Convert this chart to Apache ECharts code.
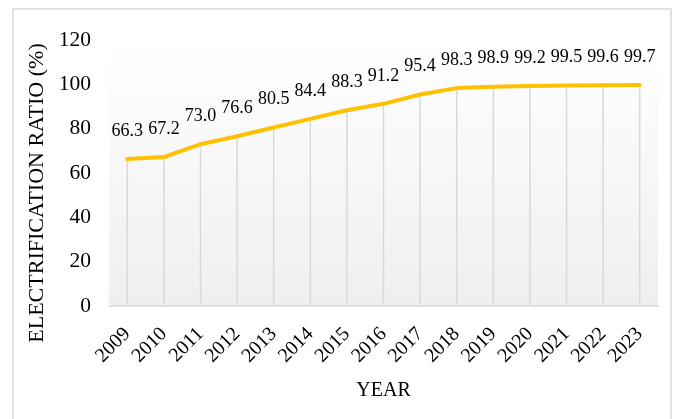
<!DOCTYPE html>
<html>
<head>
<meta charset="utf-8">
<script src="https://cdn.jsdelivr.net/npm/echarts@6/dist/echarts.min.js"></script>
<style>
  html, body { margin: 0; padding: 0; background: #fff; }
  #chart { width: 676px; height: 419px; }
</style>
</head>
<body>
<div id="chart"></div>
<script>
// data
const years = ['2009', '2010', '2011', '2012', '2013', '2014', '2015', '2016',
               '2017', '2018', '2019', '2020', '2021', '2022', '2023'];
const ratio = [66.3, 67.2, 73.0, 76.6, 80.5, 84.4, 88.3, 91.2,
               95.4, 98.3, 98.9, 99.2, 99.5, 99.6, 99.7];

const serif = '"Liberation Serif", "Times New Roman", serif';

const chart = echarts.init(document.getElementById('chart'));
chart.setOption({
    animation: false,
    textStyle: { fontFamily: serif, color: '#000' },
    graphic: [{
        type: 'rect',
        shape: { x: 13, y: 9, width: 658, height: 430 },
        style: { fill: 'none', stroke: '#d9d9d9', lineWidth: 1.5 },
        silent: true
    }],
    grid: {
        left: 109, right: 18, top: 40, bottom: 113,
        show: true,
        borderWidth: 0,
        backgroundColor: {
            type: 'linear', x: 0, y: 0, x2: 0, y2: 1,
            colorStops: [
                { offset: 0, color: '#ffffff' },
                { offset: 1, color: '#efefef' }
            ]
        }
    },
    xAxis: {
        type: 'category',
        data: years,
        boundaryGap: true,
        name: 'YEAR',
        nameLocation: 'middle',
        nameGap: 75,
        nameTextStyle: { fontFamily: serif, fontSize: 20, color: '#000' },
        axisLine: { lineStyle: { color: '#d9d9d9', width: 1.5 } },
        axisTick: { show: false },
        axisLabel: { interval: 0, rotate: 45, fontFamily: serif, fontSize: 20, color: '#000', margin: 25 },
        splitLine: { show: false }
    },
    yAxis: {
        type: 'value',
        min: 0, max: 120, interval: 20,
        name: 'ELECTRIFICATION RATIO (%)',
        nameLocation: 'middle',
        nameGap: 58,
        nameTextStyle: { fontFamily: serif, fontSize: 22, color: '#000', padding: [0, 40, 0, 0] },
        axisLine: { show: false },
        axisTick: { show: false },
        splitLine: { show: false },
        axisLabel: { fontFamily: serif, fontSize: 21.5, color: '#000', margin: 18 }
    },
    series: [{
        // drop lines from each point to the axis
        type: 'bar',
        data: ratio,
        barWidth: 1.5,
        itemStyle: { color: '#d9d9d9' },
        silent: true,
        z: 1
    }, {
        type: 'line',
        data: ratio,
        symbol: 'circle',
        symbolSize: 0.1,
        lineStyle: { color: '#FFC000', width: 4, cap: 'round', join: 'round' },
        itemStyle: { color: '#FFC000' },
        z: 3,
        label: {
            show: true,
            position: 'top',
            distance: 19,
            fontFamily: serif,
            fontSize: 18,
            color: '#000',
            formatter: p => p.value.toFixed(1)
        }
    }]
});
</script>
</body>
</html>
